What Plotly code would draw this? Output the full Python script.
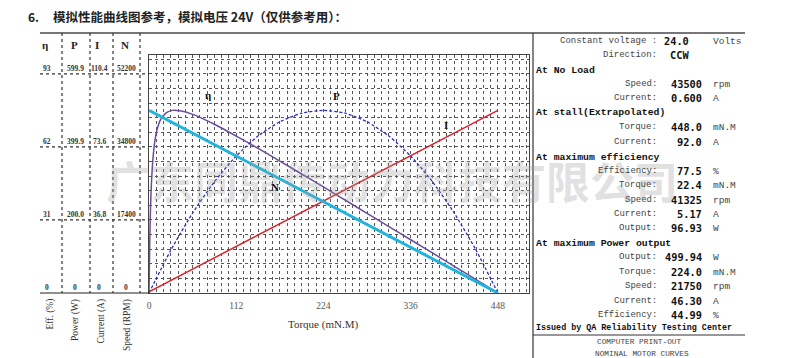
import plotly.graph_objects as go

# ---------------- data ----------------
torque_lin = [0, 448]
speed_rpm = [43500, 0]
current_a = [0.6, 92.0]

torque_pow = [0, 28, 56, 84, 112, 140, 168, 196, 224, 252, 280, 308, 336, 364, 392, 420, 448]
power_w = [0, 117.2, 218.7, 304.7, 375.0, 429.7, 468.7, 492.2, 499.9, 492.2, 468.7,
           429.7, 375.0, 304.7, 218.7, 117.2, 0]

torque_eff = [0, 1, 2, 3, 5, 7.5, 10, 15, 22.4, 30, 40, 56, 84, 112, 140, 168, 196,
              224, 252, 280, 308, 336, 364, 392, 420, 448]
eff_pct = [0, 23.1, 36.7, 45.7, 56.7, 64.4, 68.9, 73.7, 76.5, 77.5, 77.3, 75.8, 71.6,
           66.6, 61.4, 56.0, 50.5, 45.0, 39.4, 33.8, 28.2, 22.6, 17.0, 11.3, 5.7, 0]

eff_ticks = [0, 31, 62, 93]
eff_tick_text = ["0", "31", "62", "93"]
power_tick_text = ["0", "200.0", "399.9", "599.9"]
current_tick_text = ["0", "36.8", "73.6", "110.4"]
speed_tick_text = ["0", "17400", "34800", "52200"]
torque_ticks = [0, 112, 224, 336, 448]

column_heads = ["η", "P", "I", "N"]
column_titles = ["Eff. (%)", "Power (W)", "Current (A)", "Speed (RPM)"]

panel_rows = [
    ("row", "Constant voltage :", "24.0", "Volts"),
    ("row", "Direction:", "CCW", ""),
    ("head", "At No Load"),
    ("row", "Speed:", "43500", "rpm"),
    ("row", "Current:", "0.600", "A"),
    ("head", "At stall(Extrapolated)"),
    ("row", "Torque:", "448.0", "mN.M"),
    ("row", "Current:", "92.0", "A"),
    ("head", "At maximum efficiency"),
    ("row", "Efficiency:", "77.5", "%"),
    ("row", "Torque:", "22.4", "mN.M"),
    ("row", "Speed:", "41325", "rpm"),
    ("row", "Current:", "5.17", "A"),
    ("row", "Output:", "96.93", "W"),
    ("head", "At maximum Power output"),
    ("row", "Output:", "499.94", "W"),
    ("row", "Torque:", "224.0", "mN.M"),
    ("row", "Speed:", "21750", "rpm"),
    ("row", "Current:", "46.30", "A"),
    ("row", "Efficiency:", "44.99", "%"),
]

# ---------------- geometry (reference pixel coords; page body has an 8px margin) ----------------
W, H = 790, 358
OFF = 8
L, R, T, B = 149, 529, 55, 293
EFF_TOP = 101.0


def px(x):
    return (x - L) / (R - L)


def py(y):
    return (B - y) / (B - T)


SERIF = "Liberation Serif"
MONO = "Liberation Mono"

fig = go.Figure()

fig.add_trace(go.Scatter(x=torque_lin, y=current_a, yaxis="y3", mode="lines",
                         line=dict(color="#d8232e", width=1.5), hoverinfo="skip"))
fig.add_trace(go.Scatter(x=torque_pow, y=power_w, yaxis="y2", mode="lines",
                         line=dict(color="#2a2ac4", width=1.3, dash="3px,2px",
                                   shape="spline", smoothing=0.6), hoverinfo="skip"))
fig.add_trace(go.Scatter(x=torque_eff, y=eff_pct, yaxis="y", mode="lines",
                         line=dict(color="#6a4c9c", width=1.5, shape="spline",
                                   smoothing=0.5), hoverinfo="skip"))
fig.add_trace(go.Scatter(x=torque_lin, y=speed_rpm, yaxis="y4", mode="lines",
                         line=dict(color="#22b4dc", width=3), hoverinfo="skip"))

grid = dict(showgrid=True, gridcolor="#555555", griddash="dot", gridwidth=1)

fig.update_layout(
    width=W, height=H,
    margin=dict(l=L - OFF, r=W - (R - OFF), t=T - OFF, b=H - (B - OFF), pad=0),
    paper_bgcolor="white", plot_bgcolor="white",
    showlegend=False,
    xaxis=dict(range=[0, 488], tickmode="array", tickvals=torque_ticks,
               ticktext=[str(t) for t in torque_ticks], ticks="",
               ticklabelstandoff=4,
               tickfont=dict(family=SERIF, size=9.5, color="#555"),
               showline=True, linecolor="#444", linewidth=1, mirror=True,
               zeroline=False, automargin=False, **grid,
               minor=dict(tick0=0, dtick=448 / 48, ticks="", **grid)),
    yaxis=dict(range=[0, EFF_TOP], tick0=0, dtick=6.2, showticklabels=False,
               ticks="", showline=True, linecolor="#444", linewidth=1, mirror=True,
               zeroline=False, automargin=False, **grid),
    yaxis2=dict(range=[0, EFF_TOP * 599.9 / 93], overlaying="y", visible=False),
    yaxis3=dict(range=[0, EFF_TOP * 110.4 / 93], overlaying="y", visible=False),
    yaxis4=dict(range=[0, EFF_TOP * 52200 / 93], overlaying="y", visible=False),
)

shapes = []
shapes.append(dict(type="line", xref="paper", yref="paper", x0=px(40), x1=px(745),
                   y0=py(33), y1=py(33), line=dict(color="#777", width=2)))
shapes.append(dict(type="line", xref="paper", yref="paper", x0=px(40), x1=px(149),
                   y0=py(293), y1=py(293), line=dict(color="#222", width=1.2)))
for xv in [62, 90, 113, 140]:
    shapes.append(dict(type="line", xref="paper", yref="paper", x0=px(xv), x1=px(xv),
                       y0=py(33), y1=py(293), line=dict(color="#333", width=1.2, dash="dot")))
for v in eff_ticks[1:]:
    shapes.append(dict(type="line", xref="paper", yref="y", x0=px(40), x1=px(149),
                       y0=v, y1=v, line=dict(color="#333", width=1.2, dash="dot")))
shapes.append(dict(type="line", xref="paper", yref="paper", x0=px(533), x1=px(533),
                   y0=py(33), y1=py(366), line=dict(color="#333", width=1.2)))
shapes.append(dict(type="line", xref="paper", yref="paper", x0=px(533), x1=px(745),
                   y0=py(335), y1=py(335), line=dict(color="#333", width=1.2)))
fig.update_layout(shapes=shapes)

ann = []


def txt(x, y, s, size, family, color="#222", xanchor="left", yanchor="middle", angle=0):
    ann.append(dict(x=px(x), y=py(y), xref="paper", yref="paper", text=s,
                    showarrow=False, xanchor=xanchor, yanchor=yanchor, textangle=angle,
                    font=dict(size=size, family=family, color=color)))


# watermark
txt(392, 180, "<b>广东同鼎传动力科技有限公司</b>", 44, "Noto Sans CJK SC",
    color="rgba(160,160,160,0.32)", xanchor="center")

# title
txt(26, 17, "<b>6.</b>", 12, "Noto Sans CJK SC", color="#222")
txt(51, 17, "<b>模拟性能曲线图参考，模拟电压 24V（仅供参考用）：</b>", 12.5,
    "Noto Sans CJK SC", color="#222")

# column heads and tick labels
col_x = [47, 75, 99, 126]
head_x = [45, 74, 97, 125]
for hx, h in zip(head_x, column_heads):
    txt(hx, 45, "<b>" + h + "</b>", 11, SERIF, color="#222", xanchor="center")
for cx, labels in zip(col_x, [eff_tick_text, power_tick_text, current_tick_text,
                              speed_tick_text]):
    for v, lab in zip(eff_ticks, labels):
        ann.append(dict(x=px(cx), y=v, xref="paper", yref="y", text="<b>" + lab + "</b>",
                        showarrow=False, xanchor="center", yanchor="bottom", yshift=-1,
                        font=dict(size=7.5, family=SERIF, color="#333")))
for cx, t in zip([50, 75, 101, 127], column_titles):
    txt(cx, 297, t, 9.5, SERIF, color="#333", xanchor="center", yanchor="top", angle=-90)

# axis title
txt(323, 324, "Torque (mN.M)", 11, SERIF, color="#333", xanchor="center")

# curve labels
for lx, ly, s in [(208, 95, "η"), (336, 96, "P"), (446, 125, "I"), (275, 187, "N")]:
    txt(lx, ly, "<b>" + s + "</b>", 11, SERIF, color="#111", xanchor="center")

# right panel
y = 41
ystep = [14, 15, 14, 14, 14, 15, 15, 15, 14, 14, 15, 14, 14, 15, 14, 15, 14, 15, 14]
for i, row in enumerate(panel_rows):
    if row[0] == "head":
        txt(534, y, "<b>" + row[1] + "</b>", 9.8, MONO, color="#111")
    else:
        _, lab, val, unit = row
        vx = 691 if i < 2 else 704
        txt(659, y, lab, 9.0, MONO, color="#444", xanchor="right")
        txt(vx, y, "<b>" + val + "</b>", 10.3, "DejaVu Sans Mono", color="#111",
            xanchor="right")
        if unit:
            txt(711, y, unit, 9.5, MONO, color="#444")
    if i < len(ystep):
        y += ystep[i]

txt(534, 328, "<b>Issued by QA Reliability Testing Center</b>", 8.4, MONO, color="#111")
txt(639, 342, "COMPUTER PRINT-OUT", 7.8, MONO, color="#444", xanchor="center")
txt(642, 354, "NOMINAL MOTOR CURVES", 7.8, MONO, color="#444", xanchor="center")

fig.update_layout(annotations=ann)
fig.write_html("out.html")
